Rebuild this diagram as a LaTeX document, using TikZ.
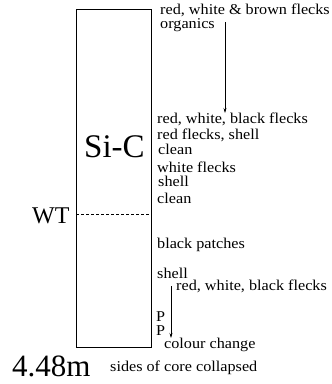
\documentclass[tikz,border=0pt]{standalone}
\usepackage{fontspec}
\setmainfont{Liberation Serif}
\newfontfamily\notefont[FakeStretch=1.08]{Liberation Serif}
\usetikzlibrary{arrows.meta, positioning}
\tikzset{
	core/.style={draw, semithick},
	note/.style={anchor=base west, inner sep=0pt, font=\notefont\fontsize{15}{17}\selectfont},
	big/.style={anchor=base west, inner sep=0pt, font=\fontsize{33}{35}\selectfont},
	trend/.style={-{Stealth[length=5pt, width=3pt]}, semithick}
}
\begin{document}
\begin{tikzpicture}[x=1pt, y=-1pt]
	\useasboundingbox (0,0) rectangle (332,384);
	\draw[core] (76,9) rectangle (151,347);
	\coordinate (wtl) at (76,214);
	\coordinate (wtr) at (151,214);
	\draw[dash pattern=on 3pt off 2pt] (wtl) -- (wtr);
	
	\node[big] (sic) at (84,157) {Si-C};
	\node[big, font=\fontsize{24}{28}\selectfont] (wt) at (32,223) {WT};
	\node[big, font=\fontsize{31}{34}\selectfont] (depth) at (12,376) {4.48m};
	
	\node[note] (n1) at (160,14) {red, white \& brown flecks};
	\node[note] (n2) at (160,28.5) {organics};
	\node[note] (n3) at (157,123) {red, white, black flecks};
	\node[note] (n4) at (157,139) {red flecks, shell};
	\node[note] (n5) at (158,154) {clean};
	\node[note] (n6) at (157,172) {white flecks};
	\node[note] (n7) at (158,186) {shell};
	\node[note] (n8) at (157,203) {clean};
	\node[note] (n9) at (157,248) {black patches};
	\node[note] (n10) at (157,278) {shell};
	\node[note] (n11) at (176,290) {red, white, black flecks};
	\node[note] (p1) at (156,321) {P};
	\node[note] (p2) at (156,335) {P};
	\node[note] (n12) at (164,348) {colour change};
	\node[note] (n13) at (110,371) {sides of core collapsed};
	
	\coordinate (a1s) at (225,22);
	\coordinate (a1e) at (225,113);
	\coordinate (a2s) at (171,286);
	\coordinate (a2e) at (171,338);
	\draw[trend] (a1s) -- (a1e);
	\draw[trend] (a2s) -- (a2e);
\end{tikzpicture}
\end{document}
